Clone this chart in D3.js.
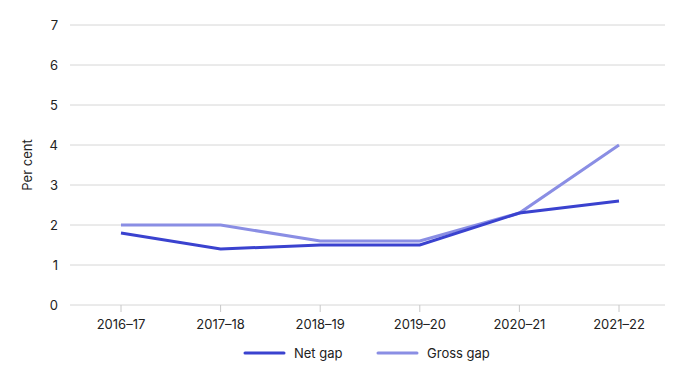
<!DOCTYPE html>
<meta charset="utf-8">
<body style="margin:0;background-color:white;">
<svg width="689" height="377"></svg>
<script src="https://d3js.org/d3.v7.min.js"></script>
<script>

var years = ["2016–17", "2017–18", "2018–19", "2019–20", "2020–21", "2021–22"];
var netGap = [1.8, 1.4, 1.5, 1.5, 2.3, 2.6];
var grossGap = [2.0, 2.0, 1.6, 1.6, 2.3, 4.0];
var yTicks = [0, 1, 2, 3, 4, 5, 6, 7];

var font = "Inter, 'Noto Sans', sans-serif";
var netColor = "#3a42cf", grossColor = "#8a8ee4";

var svg = d3.select("svg");

var x = d3.scalePoint().domain(years).range([121, 619]);
var y = d3.scaleLinear().domain([0, 7]).range([305, 25]);

// grid lines
var grid = svg.append("g");
grid.selectAll("line").data(yTicks).enter().append("line")
	.attr("x1", 70).attr("x2", 665)
	.attr("y1", function(d) { return y(d); })
	.attr("y2", function(d) { return y(d); })
	.attr("stroke", "#d6d6d6").attr("stroke-width", 1);

// y tick labels
svg.append("g").selectAll("text").data(yTicks).enter().append("text")
	.attr("x", 58).attr("y", function(d) { return y(d); })
	.attr("dy", "0.35em").attr("text-anchor", "end")
	.style("font-family", font).style("font-size", "13px").attr("fill", "#222")
	.text(function(d) { return d; });

// y label
svg.append("text")
	.attr("transform", "translate(32,165)rotate(-90)")
	.attr("text-anchor", "middle")
	.style("font-family", font).style("font-size", "13px").attr("fill", "#222")
	.text("Per cent");

// x ticks
var xt = svg.append("g").selectAll("g").data(years).enter().append("g")
	.attr("transform", function(d) { return "translate(" + x(d) + ",0)"; });
xt.append("line").attr("y1", 305).attr("y2", 312).attr("stroke", "#c8c8c8");
xt.append("text").attr("y", 329).attr("text-anchor", "middle")
	.style("font-family", font).style("font-size", "13px").attr("fill", "#222")
	.text(function(d) { return d; });

var line = d3.line()
	.x(function(d, i) { return x(years[i]); })
	.y(function(d) { return y(d); });

svg.append("path").datum(grossGap).attr("d", line)
	.attr("fill", "none").attr("stroke", grossColor).attr("stroke-width", 3);
svg.append("path").datum(netGap).attr("d", line)
	.attr("fill", "none").attr("stroke", netColor).attr("stroke-width", 3);

// legend
var legend = [
	{name: "Net gap", color: netColor, x: 245},
	{name: "Gross gap", color: grossColor, x: 378}
];
var lg = svg.append("g").selectAll("g").data(legend).enter().append("g")
	.attr("transform", function(d) { return "translate(" + d.x + ",353)"; });
lg.append("line").attr("x1", 0).attr("x2", 39)
	.attr("stroke", function(d) { return d.color; })
	.attr("stroke-width", 3).attr("stroke-linecap", "round");
lg.append("text").attr("x", 49).attr("dy", "0.35em")
	.style("font-family", font).style("font-size", "13px").attr("fill", "#222")
	.text(function(d) { return d.name; });

</script>
</body>
